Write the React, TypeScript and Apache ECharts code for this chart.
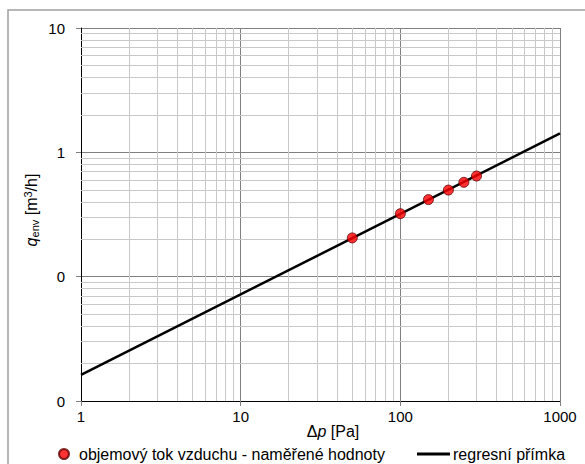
import React, { useEffect, useRef } from "react";
import * as echarts from "echarts";

// measured values
const measuredDp = [50, 100, 150, 200, 250, 300];
const measuredQ = [0.205, 0.321, 0.417, 0.497, 0.574, 0.645];
// regression line end points
const regressionDp = [1, 1000];
const regressionQ = [0.0162, 1.42];
// minor grid values
const xMinorTicks = [2, 3, 4, 5, 6, 7, 8, 9, 20, 30, 40, 50, 60, 70, 80, 90, 200, 300, 400, 500, 600, 700, 800, 900];
const yMinorTicks = [0.02, 0.03, 0.04, 0.05, 0.06, 0.07, 0.08, 0.09, 0.2, 0.3, 0.4, 0.5, 0.6, 0.7, 0.8, 0.9, 2, 3, 4, 5, 6, 7, 8, 9];
const legendMeasured = "objemový tok vzduchu - naměřené hodnoty";
const legendRegression = "regresní přímka";

const FONT = "'Liberation Sans', Arial, sans-serif";

export default function App() {
  const ref = useRef<HTMLDivElement>(null);
  useEffect(() => {
    if (!ref.current) return;
    const chart = echarts.init(ref.current, undefined, { renderer: "svg" });
    const regression = regressionDp.map((x, i) => [x, regressionQ[i]]);
    const measured = measuredDp.map((x, i) => [x, measuredQ[i]]);
    chart.setOption({
      animation: false,
      backgroundColor: "#ffffff",
      textStyle: { fontFamily: FONT },
      grid: { left: 81, top: 28, right: 25, bottom: 63, containLabel: false },
      xAxis: {
        type: "log",
        logBase: 10,
        min: 1,
        max: 1000,
        axisLine: { show: true, onZero: false, lineStyle: { color: "#000", width: 1 } },
        axisTick: { show: true, length: 5, lineStyle: { color: "#808080" } },
        axisLabel: {
          fontSize: 15,
          color: "#000",
          margin: 8,
          fontFamily: FONT,
          formatter: (v: number) => String(Math.round(v)),
        },
        splitLine: { show: true, lineStyle: { color: "#808080", width: 1 } },
      },
      yAxis: {
        type: "log",
        logBase: 10,
        min: 0.01,
        max: 10,
        axisLine: { show: true, onZero: false, lineStyle: { color: "#000", width: 1 } },
        axisTick: { show: true, length: 5, lineStyle: { color: "#808080" } },
        axisLabel: {
          fontSize: 15,
          color: "#000",
          margin: 16,
          fontFamily: FONT,
          formatter: (v: number) => String(Math.round(v)),
        },
        splitLine: { show: true, lineStyle: { color: "#808080", width: 1 } },
      },
      legend: [
        {
          data: [{ name: legendMeasured, icon: "circle" }],
          left: 53,
          top: 441,
          itemWidth: 10,
          itemHeight: 10,
          textStyle: { fontSize: 16, color: "#000", fontFamily: FONT, padding: [0, 0, 0, 5] },
          selectedMode: false,
        },
        {
          data: [{ name: legendRegression, icon: "rect" }],
          left: 412,
          top: 441,
          itemWidth: 33,
          itemHeight: 3,
          textStyle: { fontSize: 16, color: "#000", fontFamily: FONT, padding: [0, 0, 0, -2] },
          selectedMode: false,
        },
      ],
      graphic: [
        {
          type: "rect",
          shape: { x: 8, y: 10, width: 700, height: 600 },
          style: { fill: "none", stroke: "#a0a0a0", lineWidth: 1.5 },
          silent: true,
        },
        {
          type: "text",
          x: 333,
          y: 431,
          style: {
            text: "{n|Δ}{i|p}{n| [Pa]}",
            align: "center",
            verticalAlign: "middle",
            rich: {
              n: { fontSize: 16, fontFamily: FONT, fill: "#000" },
              i: { fontSize: 16, fontFamily: FONT, fontStyle: "italic", fill: "#000" },
            },
          },
        },
        {
          type: "text",
          x: 31,
          y: 210,
          rotation: Math.PI / 2,
          style: {
            text: "{i|q}{sub|env}{n| [m}{sup|3}{n|/h]}",
            align: "center",
            verticalAlign: "middle",
            rich: {
              n: { fontSize: 16, fontFamily: FONT, fill: "#000", lineHeight: 18, verticalAlign: "middle" },
              i: { fontSize: 16, fontFamily: FONT, fontStyle: "italic", fill: "#000", lineHeight: 18, verticalAlign: "middle" },
              sub: { fontSize: 11, fontFamily: FONT, fill: "#000", lineHeight: 11, padding: [9, 0, 0, 0], verticalAlign: "bottom" },
              sup: { fontSize: 11, fontFamily: FONT, fill: "#000", lineHeight: 11, verticalAlign: "top" },
            },
          },
        },
      ],
      series: [
        {
          name: "grid",
          type: "line",
          data: regression,
          symbol: "none",
          lineStyle: { opacity: 0 },
          silent: true,
          z: 1,
          markLine: {
            z: 1,
            silent: true,
            symbol: ["none", "none"],
            label: { show: false },
            lineStyle: { color: "#c8c8c8", type: "solid", width: 1 },
            emphasis: { disabled: true },
            data: [
              ...xMinorTicks.map((v) => ({ xAxis: v })),
              ...yMinorTicks.map((v) => ({ yAxis: v })),
            ],
          },
        },
        {
          name: legendRegression,
          type: "line",
          data: regression,
          symbol: "none",
          itemStyle: { color: "#000" },
          lineStyle: { color: "#000", width: 2.5 },
          z: 6,
        },
        {
          name: legendMeasured,
          type: "scatter",
          data: measured,
          symbol: "circle",
          symbolSize: 10,
          itemStyle: { color: "#ff0000", borderColor: "#600000", borderWidth: 1 },
          z: 8,
        },
      ],
    });
    return () => chart.dispose();
  }, []);
  return <div ref={ref} style={{ width: 585, height: 464, position: "fixed", left: 0, top: 0 }} />;
}
